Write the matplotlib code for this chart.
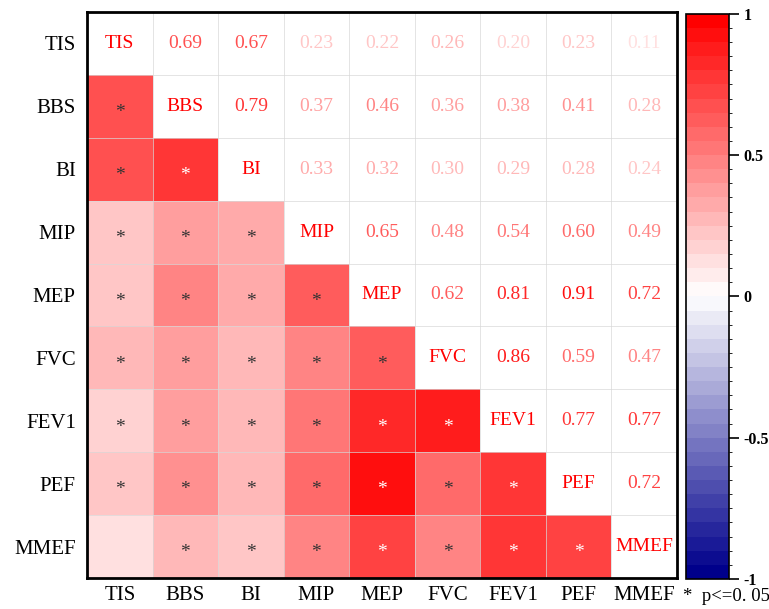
import numpy as np
import matplotlib
matplotlib.use('Agg')
import matplotlib.pyplot as plt
from matplotlib.colors import LinearSegmentedColormap, BoundaryNorm

labels = ['TIS', 'BBS', 'BI', 'MIP', 'MEP', 'FVC', 'FEV1', 'PEF', 'MMEF']

# upper triangle, row by row (r values)
upper_rows = [
    [0.69, 0.67, 0.23, 0.22, 0.26, 0.20, 0.23, 0.11],
    [0.79, 0.37, 0.46, 0.36, 0.38, 0.41, 0.28],
    [0.33, 0.32, 0.30, 0.29, 0.28, 0.24],
    [0.65, 0.48, 0.54, 0.60, 0.49],
    [0.62, 0.81, 0.91, 0.72],
    [0.86, 0.59, 0.47],
    [0.77, 0.77],
    [0.72],
]
# pairs (row, col) in lower triangle without significance
not_significant = [(8, 0)]

plt.rcParams['font.family'] = ['Liberation Serif', 'DejaVu Serif']

n = len(labels)
corr = np.eye(n)
for i, row in enumerate(upper_rows):
    for k, v in enumerate(row):
        j = i + 1 + k
        corr[i, j] = v
        corr[j, i] = v

cmap = LinearSegmentedColormap.from_list('bwr2', ['#00008B', 'white', 'red'], N=256)
bounds = np.linspace(-1, 1, 41)
norm = BoundaryNorm(bounds, cmap.N)

lower = np.full((n, n), np.nan)
for i in range(n):
    for j in range(i):
        lower[i, j] = corr[i, j]

fig = plt.figure(figsize=(7.69, 6.09), dpi=100)
ax = fig.add_axes([0.1131, 0.0509, 0.7672, 0.9294])
cmap_bad = cmap.copy()
cmap_bad.set_bad('white')
mesh = ax.pcolormesh(np.ma.masked_invalid(lower), cmap=cmap_bad, norm=norm,
                     edgecolors='face', linewidth=0)
ax.set_xlim(0, n)
ax.set_ylim(n, 0)

# thin light grid over the whole matrix
for k in range(1, n):
    ax.axhline(k, color='#d8d8d8', lw=0.7, alpha=0.7, zorder=2)
    ax.axvline(k, color='#d8d8d8', lw=0.7, alpha=0.7, zorder=2)

for i in range(n):
    for j in range(n):
        if i == j:
            ax.text(j + 0.5, i + 0.5, labels[i], ha='center', va='center',
                    color='red', fontsize=14)
        elif j > i:
            ax.text(j + 0.5, i + 0.5, '%.2f' % corr[i, j], ha='center', va='center',
                    color=cmap(norm(corr[i, j])), fontsize=14)
        elif (i, j) not in not_significant:
            col = 'white' if abs(corr[i, j]) >= 0.7 else '#333333'
            ax.text(j + 0.5, i + 0.6, '*', ha='center', va='center',
                    color=col, fontsize=14)

ax.set_xticks(np.arange(n) + 0.5)
ax.set_yticks(np.arange(n) + 0.5)
ax.set_xticklabels(labels, fontsize=15)
ax.set_yticklabels(labels, fontsize=15)
ax.tick_params(axis='x', length=0, pad=6)
ax.tick_params(axis='y', length=0, pad=8)
for s in ax.spines.values():
    s.set_linewidth(2)
    s.set_zorder(3)

cax = fig.add_axes([0.892, 0.0493, 0.0559, 0.928])
cb = fig.colorbar(mesh, cax=cax, ticks=[-1, -0.5, 0, 0.5, 1])
cb.ax.set_yticklabels(['-1', '-0.5', '0', '0.5', '1'], fontweight='bold', fontsize=11.5)
cb.ax.tick_params(length=7, width=1.2)
cb.outline.set_linewidth(1.2)

fig.text(0.888, 0.02, '*  p<=0. 05', fontsize=13.5, ha='left', va='center')

fig.savefig('out.png', dpi=100)
